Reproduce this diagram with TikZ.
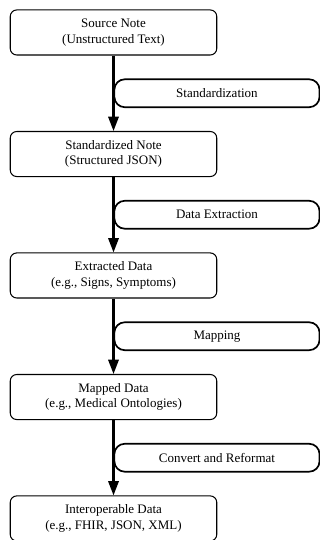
\documentclass[tikz,border=0pt]{standalone}
\usepackage{fontspec}
\setmainfont{Liberation Serif}
\usetikzlibrary{arrows.meta}
\begin{document}
\begin{tikzpicture}[x=1pt,y=1pt,
  stage/.style={draw, line width=0.8pt, rounded corners=5pt, minimum width=159pt, minimum height=34.7pt, align=center},
  steplabel/.style={draw, line width=1.3pt, rounded corners=8pt, minimum width=158pt, minimum height=21.5pt, anchor=west}]
\useasboundingbox (0,0) rectangle (246.4,-415.8);
\node[stage] (1) at (87.4,-25.0) {Source Note\\(Unstructured Text)};
\node[stage] (2) at (87.4,-118.6) {Standardized Note\\(Structured JSON)};
\node[stage] (3) at (87.4,-212.1) {Extracted Data\\(e.g., Signs, Symptoms)};
\node[stage] (4) at (87.4,-305.7) {Mapped Data\\(e.g., Medical Ontologies)};
\node[stage] (5) at (87.4,-399.2) {Interoperable Data\\(e.g., FHIR, JSON, XML)};

\path[draw,line width=1.6pt,-{Triangle[length=11pt,width=8pt]}] (1) -- node[steplabel] {Standardization} (2);
\path[draw,line width=1.6pt,-{Triangle[length=11pt,width=8pt]}] (2) -- node[steplabel] {Data Extraction} (3);
\path[draw,line width=1.6pt,-{Triangle[length=11pt,width=8pt]}] (3) -- node[steplabel] {Mapping} (4);
\path[draw,line width=1.6pt,-{Triangle[length=11pt,width=8pt]}] (4) -- node[steplabel] {Convert and Reformat} (5);
\end{tikzpicture}
\end{document}
